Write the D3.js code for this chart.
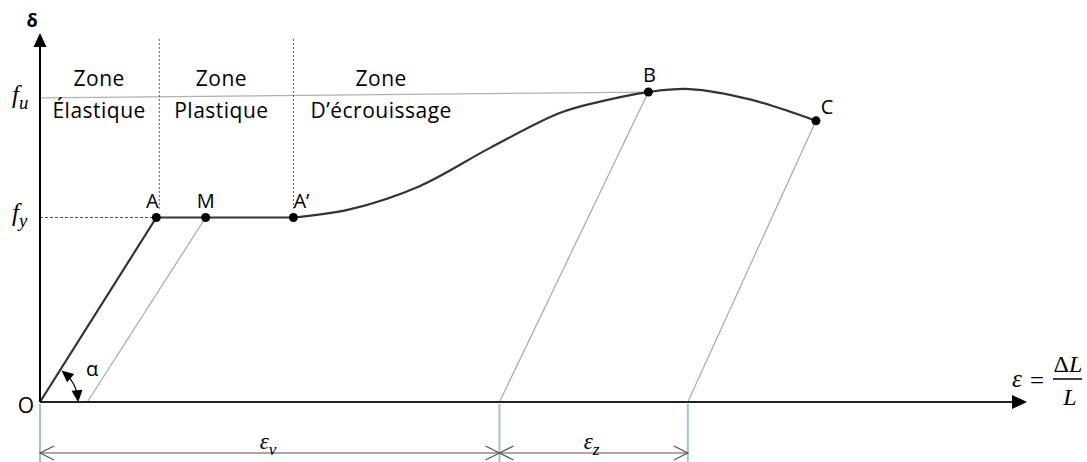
<!DOCTYPE html>
<html>
<head>
<meta charset="utf-8">
<script src="https://cdn.jsdelivr.net/npm/d3@7"></script>
<style>
body { margin: 0; background: #fff; }
text { font-family: "Open Sans", sans-serif; fill: #000; }
.math { font-family: "Liberation Serif", "DejaVu Serif", serif; font-style: italic; }
</style>
</head>
<body>
<script>
var width = 1087;
var height = 462;

// strain / stress values (arbitrary units)
var fy = 5.0;
var fu = 8.24;
var pointNames = ["A", "M", "A\u2019", "B", "C"];
var pointStrain = [1.18, 1.68, 2.57, 6.17, 7.87];
var pointStress = [5.0, 5.0, 5.0, 8.40, 7.62];
var hardeningStrain = [2.57, 3.14, 3.85, 4.56, 5.27, 5.68, 6.17, 6.59, 7.20, 7.87];
var hardeningStress = [5.0, 5.22, 5.85, 6.88, 7.83, 8.14, 8.40, 8.48, 8.20, 7.62];
var unloadFrom = [1, 3, 4];           // index into the points above
var unloadTo = [0.48, 4.66, 6.57];    // residual strain after unloading
var zoneBounds = [1.21, 2.57];
var zoneCenter = [0.60, 1.84, 3.46];
var zoneTop = ["Zone", "Zone", "Zone"];
var zoneBottom = ["\u00c9lastique", "Plastique", "D\u2019\u00e9crouissage"];

var x = d3.scaleLinear().domain([0, 10]).range([40, 1026]);
var y = d3.scaleLinear().domain([0, 10]).range([402, 33]);

var svg = d3.select("body")
    .append("svg")
    .attr("width", width)
    .attr("height", height);

// label nudges for the points
var labelDx = [-4, 0, 8, 1, 11];
var labelDy = [-10, -10, -10, -10, -7];

// fu reference line (thin grey) from axis to B
svg.append("line")
    .attr("x1", x(0)).attr("y1", y(fu))
    .attr("x2", x(pointStrain[3])).attr("y2", y(pointStress[3]))
    .attr("stroke", "#b0b0b0").attr("stroke-width", 1.2);

// fy dashed line to A
svg.append("line")
    .attr("x1", x(0)).attr("y1", y(fy))
    .attr("x2", x(pointStrain[0])).attr("y2", y(fy))
    .attr("stroke", "#555").attr("stroke-width", 1)
    .attr("stroke-dasharray", "3,2");

// zone dividers
zoneBounds.forEach(function(b) {
    svg.append("line")
        .attr("x1", x(b)).attr("y1", y(9.84))
        .attr("x2", x(b)).attr("y2", y(fy) - 8)
        .attr("stroke", "#555").attr("stroke-width", 1)
        .attr("stroke-dasharray", "2,2");
});

// zone labels
zoneCenter.forEach(function(c, i) {
    svg.append("text")
        .attr("x", x(c)).attr("y", 86)
        .attr("text-anchor", "middle")
        .style("font-size", "21px")
        .style("letter-spacing", "0.5px")
        .text(zoneTop[i]);
    svg.append("text")
        .attr("x", x(c)).attr("y", 118)
        .attr("text-anchor", "middle")
        .style("font-size", "21px")
        .style("letter-spacing", "0.5px")
        .text(zoneBottom[i]);
});

// unloading lines
unloadFrom.forEach(function(p, i) {
    svg.append("line")
        .attr("x1", x(pointStrain[p])).attr("y1", y(pointStress[p]))
        .attr("x2", x(unloadTo[i])).attr("y2", y(0))
        .attr("stroke", "#a8a8a8").attr("stroke-width", 1.2);
});

// elastic + plastic part
var line = d3.line()
    .x(function(d) { return x(d[0]); })
    .y(function(d) { return y(d[1]); });

svg.append("path")
    .attr("d", line([[0, 0], [pointStrain[0], pointStress[0]], [pointStrain[2], pointStress[2]]]))
    .attr("fill", "none").attr("stroke", "#333").attr("stroke-width", 2.2);

// hardening curve
var hardening = hardeningStrain.map(function(s, i) { return [s, hardeningStress[i]]; });
svg.append("path")
    .attr("d", line.curve(d3.curveCatmullRom.alpha(0.5))(hardening))
    .attr("fill", "none").attr("stroke", "#333").attr("stroke-width", 2.2);

// axes
svg.append("line")
    .attr("x1", x(0)).attr("y1", y(0))
    .attr("x2", x(0)).attr("y2", y(0) - 355)
    .attr("stroke", "#000").attr("stroke-width", 2);
svg.append("path")
    .attr("d", "M" + x(0) + ",33 L" + (x(0) - 6.5) + ",47 L" + (x(0) + 6.5) + ",47 Z")
    .attr("fill", "#000");
svg.append("line")
    .attr("x1", x(0)).attr("y1", y(0))
    .attr("x2", 1014).attr("y2", y(0))
    .attr("stroke", "#222").attr("stroke-width", 2.2);
svg.append("path")
    .attr("d", "M1027," + y(0) + " L1012," + (y(0) - 7) + " L1012," + (y(0) + 7) + " Z")
    .attr("fill", "#000");

// points
pointNames.forEach(function(n, i) {
    svg.append("circle")
        .attr("cx", x(pointStrain[i])).attr("cy", y(pointStress[i]))
        .attr("r", 4.5).attr("fill", "#000");
    svg.append("text")
        .attr("x", x(pointStrain[i]) + labelDx[i])
        .attr("y", y(pointStress[i]) + labelDy[i])
        .attr("text-anchor", "middle")
        .style("font-size", "20px")
        .text(n);
});

// O and delta
svg.append("text").attr("x", 26).attr("y", 413)
    .attr("text-anchor", "middle").style("font-size", "21px").text("O");
svg.append("text").attr("x", 32).attr("y", 27)
    .attr("text-anchor", "middle").style("font-size", "18px")
    .style("font-weight", "bold").text("\u03b4");

// fu / fy labels
function subLabel(tx, ty, main, sub, size, anchor) {
    var t = svg.append("text").attr("class", "math")
        .attr("x", tx).attr("y", ty)
        .attr("text-anchor", anchor || "start")
        .style("font-size", size + "px");
    t.append("tspan").text(main);
    t.append("tspan").attr("dy", size * 0.25).style("font-size", (size * 0.75) + "px").text(sub);
    return t;
}
subLabel(12, y(fu) + 5, "f", "u", 25);
subLabel(12, y(fy) + 3, "f", "y", 25);

// alpha angle arc
var arcR = 38;
var elasticAngle = Math.atan2(y(0) - y(pointStress[0]), x(pointStrain[0]) - x(0));
var a0 = elasticAngle - 0.14, a1 = 0.1;
var arcPts = d3.range(0, 1.001, 0.05).map(function(t) {
    var a = a0 + (a1 - a0) * t;
    return [x(0) + arcR * Math.cos(a), y(0) - arcR * Math.sin(a)];
});
svg.append("path")
    .attr("d", d3.line()(arcPts))
    .attr("fill", "none").attr("stroke", "#000").attr("stroke-width", 1.2);
function arcHead(a, dir) {
    var px = x(0) + arcR * Math.cos(a), py = y(0) - arcR * Math.sin(a);
    // tangent direction (dir=+1 towards larger angle)
    var tx = -Math.sin(a) * dir, ty = -Math.cos(a) * dir;
    var nx = -ty, ny = tx;
    var L = 12, W = 5.5;
    var tip = [px + tx * 4, py + ty * 4];
    var b1 = [tip[0] - tx * L + nx * W, tip[1] - ty * L + ny * W];
    var b2 = [tip[0] - tx * L - nx * W, tip[1] - ty * L - ny * W];
    svg.append("path")
        .attr("d", "M" + tip + "L" + b1 + "L" + b2 + "Z")
        .attr("fill", "#000");
}
arcHead(a0, 1);
arcHead(a1, -1);
svg.append("text").attr("x", 92).attr("y", 376)
    .attr("text-anchor", "middle").style("font-size", "20px").text("\u03b1");

// strain definition
svg.append("text").attr("class", "math").attr("x", 1017).attr("y", 387)
    .attr("text-anchor", "middle").style("font-size", "25px").text("\u03b5");
svg.append("text").attr("x", 1037).attr("y", 389)
    .attr("text-anchor", "middle").style("font-family", "Liberation Serif, serif")
    .style("font-size", "25px").text("=");
svg.append("line").attr("x1", 1053).attr("x2", 1082).attr("y1", 379).attr("y2", 379)
    .attr("stroke", "#000").attr("stroke-width", 1.5);
svg.append("text").attr("class", "math").attr("x", 1068).attr("y", 372)
    .attr("text-anchor", "middle").style("font-size", "24px")
    .html("<tspan style='font-style:normal'>\u0394</tspan>L");
svg.append("text").attr("class", "math").attr("x", 1070).attr("y", 405)
    .attr("text-anchor", "middle").style("font-size", "24px").text("L");

// dimension lines
var dimY = 453;
[0, unloadTo[1], unloadTo[2]].forEach(function(v) {
    svg.append("line")
        .attr("x1", x(v)).attr("x2", x(v)).attr("y1", y(0) + 2).attr("y2", height)
        .attr("stroke", "#9dc3e6").attr("stroke-width", 2);
});
svg.append("line")
    .attr("x1", x(0)).attr("x2", x(unloadTo[2])).attr("y1", dimY).attr("y2", dimY)
    .attr("stroke", "#555").attr("stroke-width", 1.2);
function chevron(px, dir) {
    svg.append("path")
        .attr("d", "M" + (px + dir * 14) + "," + (dimY - 7) + " L" + px + "," + dimY +
            " L" + (px + dir * 14) + "," + (dimY + 7))
        .attr("fill", "none").attr("stroke", "#555").attr("stroke-width", 1.2);
}
chevron(x(0), 1);
chevron(x(unloadTo[1]), -1);
chevron(x(unloadTo[1]), 1);
chevron(x(unloadTo[2]), -1);

subLabel(x(unloadTo[1] / 2) - 10, 449, "\u03b5", "v", 23);
subLabel(x((unloadTo[1] + unloadTo[2]) / 2) - 10, 449, "\u03b5", "z", 23);
</script>
</body>
</html>
